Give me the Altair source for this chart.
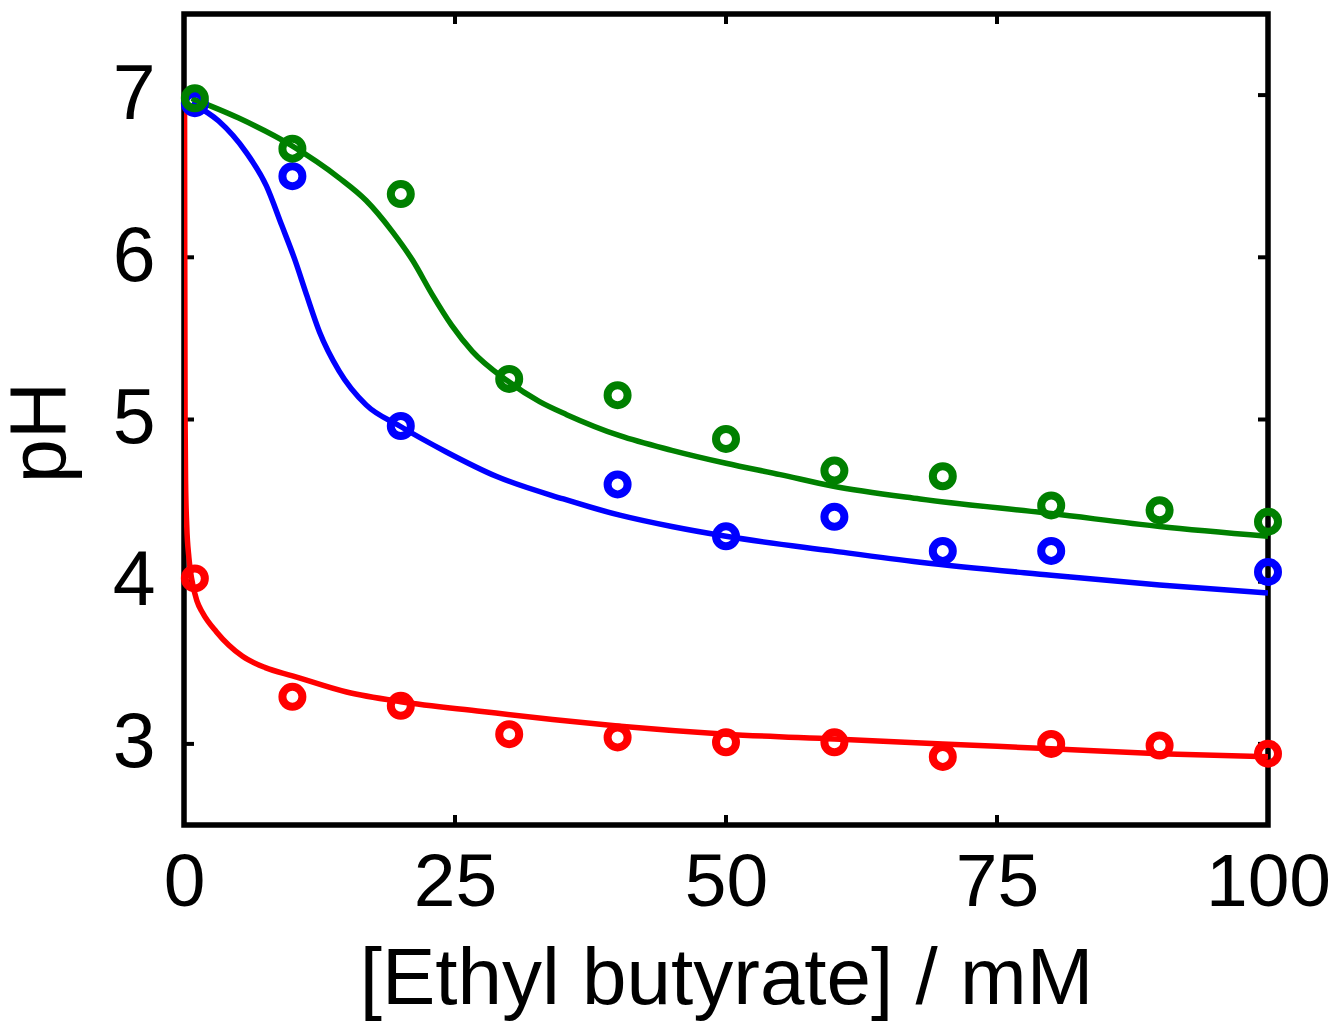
import altair as alt
import pandas as pd

# ---- data ----
pt_x = [1, 10, 20, 30, 40, 50, 60, 70, 80, 90, 100]
green_pts = [6.98, 6.67, 6.39, 5.25, 5.15, 4.88, 4.685, 4.65, 4.47, 4.44, 4.37]
blue_x = [1, 10, 20, 40, 50, 60, 70, 80, 100]
blue_pts = [6.95, 6.50, 4.96, 4.60, 4.28, 4.40, 4.19, 4.19, 4.06]
red_pts = [4.02, 3.29, 3.235, 3.06, 3.04, 3.01, 3.01, 2.92, 3.00, 2.99, 2.94]

green_fit_x = [0.7, 5, 9.9, 14.3, 16.8, 19.2, 21.1, 22.9, 24.7, 26.6, 29.8, 32.8, 35.3, 40.2, 45, 50, 55, 59.8, 67.9, 80, 90, 100]
green_fit_y = [6.98, 6.86, 6.69, 6.49, 6.35, 6.16, 5.98, 5.77, 5.58, 5.42, 5.24, 5.11, 5.03, 4.90, 4.81, 4.73, 4.66, 4.59, 4.51, 4.42, 4.34, 4.28]
blue_fit_x = [0.7, 3.2, 5.7, 7.6, 9.0, 10.2, 11.3, 12.5, 14.3, 16.8, 19.9, 24.2, 28.8, 35, 40.2, 45, 50, 59.8, 67.9, 80, 90, 100]
blue_fit_y = [6.95, 6.84, 6.65, 6.44, 6.20, 5.99, 5.77, 5.54, 5.30, 5.09, 4.96, 4.80, 4.65, 4.51, 4.41, 4.34, 4.28, 4.19, 4.12, 4.04, 3.98, 3.93]
red_fit_x = [0.05, 0.07, 0.1, 0.15, 0.25, 0.45, 0.7, 1.2, 1.7, 3.0, 5.4, 7.5, 10, 15, 20, 27.5, 34, 40, 50, 60, 70, 80, 90, 100]
red_fit_y = [7.0, 6.0, 5.0, 4.6, 4.35, 4.15, 4.02, 3.88, 3.81, 3.69, 3.54, 3.47, 3.42, 3.32, 3.26, 3.20, 3.15, 3.11, 3.06, 3.03, 3.00, 2.97, 2.94, 2.92]

x_ticks = [0, 25, 50, 75, 100]
y_ticks = [3, 4, 5, 6, 7]

series = ["red", "blue", "green"]
colors = ["#FF0000", "#0000FF", "#008000"]

# ---- tables ----
rows = []
for s, xs, ys in [("red", red_fit_x, red_fit_y), ("blue", blue_fit_x, blue_fit_y), ("green", green_fit_x, green_fit_y)]:
    for i, (a, b) in enumerate(zip(xs, ys)):
        rows.append({"series": s, "x": a, "pH": b, "i": i})
fit = pd.DataFrame(rows)

prow = []
for s, xs, ys in [("red", pt_x, red_pts), ("blue", blue_x, blue_pts), ("green", pt_x, green_pts)]:
    for a, b in zip(xs, ys):
        prow.append({"series": s, "x": a, "pH": b})
pts = pd.DataFrame(prow)

xt = pd.DataFrame({"x": x_ticks})
yt = pd.DataFrame({"pH": y_ticks})

W, H = 1084, 811
FONT = "Liberation Sans"

xscale = alt.Scale(domain=[0, 100], nice=False, zero=False)
yscale = alt.Scale(domain=[2.5, 7.5], nice=False, zero=False)
cscale = alt.Scale(domain=series, range=colors)

xaxis = alt.Axis(values=x_ticks, format="d", title="[Ethyl butyrate] / mM", grid=False, domain=False,
                 ticks=False, tickSize=0, labelFontSize=75, labelFont=FONT, labelPadding=21,
                 labelFlush=False, labelOverlap=False, labelColor="black", labelBound=False,
                 titleFont=FONT, titleFontSize=80, titleFontWeight="normal", titleColor="black",
                 titleY=178, titleBaseline="alphabetic")
yaxis = alt.Axis(values=y_ticks, format="d", title="pH", grid=False, domain=False,
                 ticks=False, tickSize=0, labelFontSize=77, labelFont=FONT, labelPadding=29,
                 labelFlush=False, labelOverlap=False, labelColor="black",
                 titleFont=FONT, titleFontSize=79, titleFontWeight="normal", titleColor="black",
                 titleX=-120, titleY=418, titleAngle=270, titleBaseline="alphabetic", titleAlign="center")

lines = alt.Chart(fit).mark_line(strokeWidth=5.5, clip=True, interpolate="monotone").encode(
    x=alt.X("x:Q", scale=xscale, axis=xaxis),
    y=alt.Y("pH:Q", scale=yscale, axis=yaxis),
    color=alt.Color("series:N", scale=cscale, legend=None),
    detail="series:N",
    order=alt.Order("i:Q"),
)

points = alt.Chart(pts).mark_point(shape="circle", filled=False, size=400, strokeWidth=8, opacity=1).encode(
    x=alt.X("x:Q", scale=xscale),
    y=alt.Y("pH:Q", scale=yscale),
    color=alt.Color("series:N", scale=cscale, legend=None),
)

TL = 10
tick_style = dict(color="black", strokeWidth=4)
bottom_t = alt.Chart(xt).mark_rule(**tick_style).encode(
    x=alt.X("x:Q", scale=xscale), y=alt.value(H), y2=alt.value(H - TL))
top_t = alt.Chart(xt).mark_rule(**tick_style).encode(
    x=alt.X("x:Q", scale=xscale), y=alt.value(0), y2=alt.value(TL))
left_t = alt.Chart(yt).mark_rule(**tick_style).encode(
    y=alt.Y("pH:Q", scale=yscale), x=alt.value(0), x2=alt.value(TL))
right_t = alt.Chart(yt).mark_rule(**tick_style).encode(
    y=alt.Y("pH:Q", scale=yscale), x=alt.value(W), x2=alt.value(W - TL))

chart = alt.layer(bottom_t, top_t, left_t, right_t, lines, points).properties(
    width=W, height=H,
    autosize=alt.AutoSizeParams(type="none"),
    padding={"left": 176, "top": 6, "right": 60, "bottom": 197},
    background="white",
).configure_view(stroke="black", strokeWidth=5.5)

chart.save("out.html", embed_options={"renderer": "svg", "actions": False})
